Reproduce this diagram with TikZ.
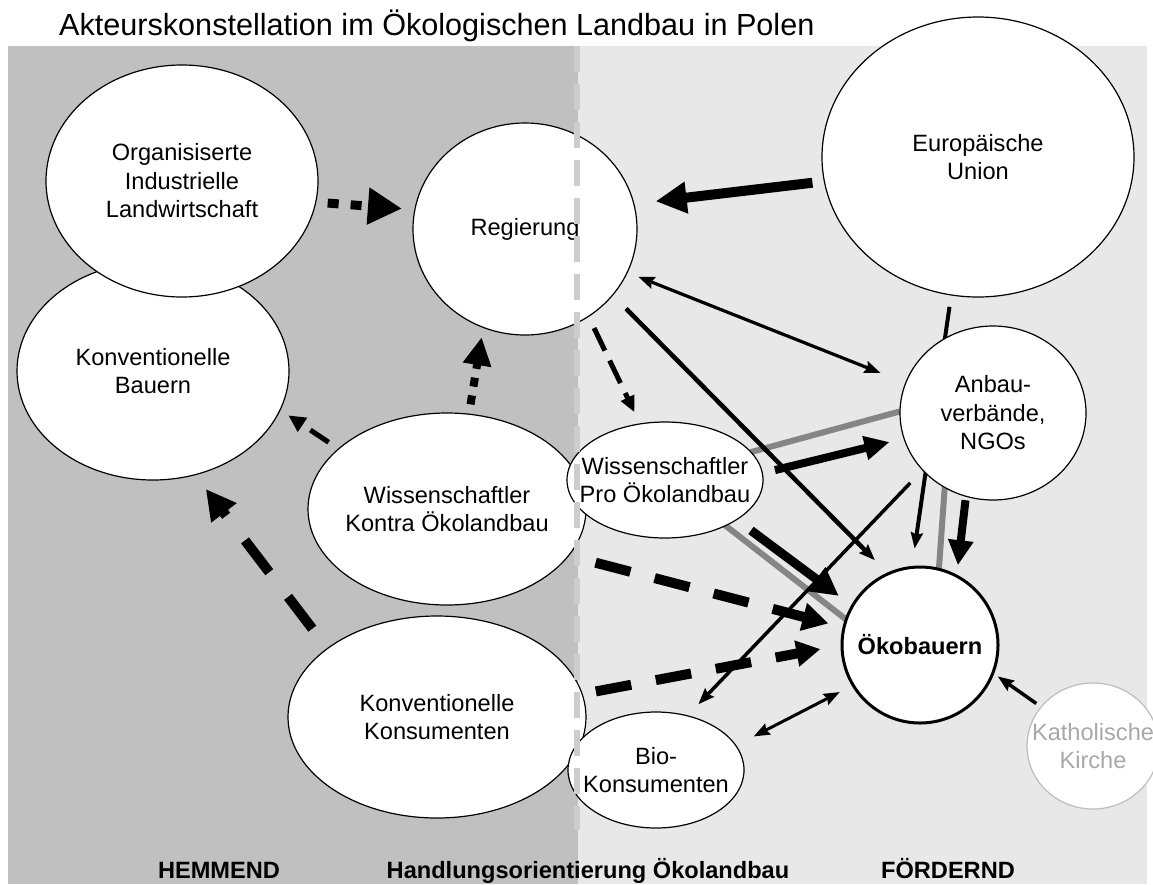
\documentclass[tikz,border=0pt]{standalone}
\usepackage{fontspec}
\setmainfont{Liberation Sans}
\usetikzlibrary{arrows.meta,shapes.geometric}
\pgfdeclarelayer{bg}
\pgfdeclarelayer{behind}
\pgfsetlayers{bg,behind,main}
\definecolor{bgdark}{HTML}{C0C0C0}
\definecolor{bglight}{HTML}{E8E8E8}
\definecolor{vlinecol}{HTML}{CDCDCD}
\definecolor{grayln}{HTML}{858585}
\definecolor{kakline}{HTML}{BDBDBD}
\definecolor{kaktext}{HTML}{A8A8A8}
\begin{document}
\begin{tikzpicture}[x=1pt,y=-1pt,
  actor/.style={ellipse,draw=black,line width=1.2pt,fill=white,inner sep=0pt,outer sep=0pt},
  txt/.style={font=\fontsize{23.6}{28.5}\selectfont,align=center,inner sep=0pt},
  lbl/.style={font=\fontsize{23.6}{28}\selectfont\bfseries,anchor=base,inner sep=0pt},
  thinhead/.style={-{Stealth[length=16pt,width=12pt,inset=2pt]}},
  thinarr/.style={draw=black,line width=3.3pt,line cap=butt,thinhead},
  thickarr/.style={draw=black,line cap=butt},
  grayline/.style={draw=grayln,line width=6pt},
  sqdots/.style={draw=black,line width=9pt,dash pattern=on 11pt off 12pt},
  sqdotsb/.style={draw=black,line width=8pt,dash pattern=on 9pt off 9pt},
  meddash/.style={draw=black,line width=5pt,dash pattern=on 22pt off 11pt},
  bigdash/.style={draw=black,line width=10pt,dash pattern=on 40pt off 31pt},
  bigdashb/.style={draw=black,line width=10pt,dash pattern=on 36pt off 25pt}
]
\useasboundingbox (0,0) rectangle (1153,884);
\begin{pgfonlayer}{bg}
\fill[bgdark] (8,46) rectangle (578,884);
\fill[bglight] (578,46) rectangle (1147,884);
\end{pgfonlayer}

\node[font=\fontsize{30.6}{36}\selectfont,anchor=base west,inner sep=0pt] (title) at (59,35)
  {Akteurskonstellation im Ökologischen Landbau in Polen};

% actors
\node[actor,minimum width=272pt,minimum height=218pt,
  label={[txt]center:{Konventionelle\\Bauern}}] (KB) at (153,371) {};
\node[actor,minimum width=272pt,minimum height=232pt,
  label={[txt]center:{Organisiserte\\Industrielle\\Landwirtschaft}}] (OIL) at (182,181) {};
\node[actor,minimum width=224pt,minimum height=212pt,
  label={[txt]center:{Regierung}}] (R) at (525,229) {};
\node[actor,minimum width=312pt,minimum height=280pt,
  label={[txt]center:{Europäische\\Union}}] (EU) at (978,157) {};
\node[actor,minimum width=186pt,minimum height=174pt,
  label={[txt]center:{Anbau-\\verbände,\\NGOs}}] (AV) at (993,413) {};
\node[actor,minimum width=278pt,minimum height=192pt,
  label={[txt]center:{Wissenschaftler\\Kontra Ökolandbau}}] (WK) at (447,509) {};
\node[actor,minimum width=196pt,minimum height=116pt,
  label={[txt]center:{Wissenschaftler\\Pro Ökolandbau}}] (WP) at (665,480) {};
\node[actor,minimum width=298pt,minimum height=202pt,
  label={[txt]center:{Konventionelle\\Konsumenten}}] (KK) at (437,717) {};
\node[actor,minimum width=176pt,minimum height=116pt,
  label={[txt]center:{Bio-\\Konsumenten}}] (BK) at (656,770) {};
\node[actor,line width=3pt,minimum width=156pt,minimum height=156pt,
  label={[txt,font=\fontsize{23.6}{28.5}\selectfont\bfseries]center:{Ökobauern}}] (OB) at (920,645) {};
\node[actor,draw=kakline,minimum width=132pt,minimum height=126pt,
  label={[txt,text=kaktext]center:{Katholische\\Kirche}}] (KaK) at (1093,746) {};

% lines behind the actors
\begin{pgfonlayer}{behind}
\draw[grayline,shorten <=-4pt,shorten >=-4pt] (WP.18) -- (AV.179);
\draw[grayline,shorten <=-4pt,shorten >=-4pt] (AV.-123) -- (OB.76);
\draw[grayline,shorten <=-4pt,shorten >=-4pt] (WP.-37) -- (OB.161);
\draw[thinarr,line width=4pt,shorten <=12pt,shorten >=19pt] (EU.-101) -- (OB.96);
\end{pgfonlayer}

% dividing line
\coordinate (vtop) at (577,46);
\coordinate (vbot) at (577,830);
\draw[vlinecol,line width=5.5pt,dash pattern=on 26pt off 12pt] (vtop) -- (vbot);

% connectors
\draw[sqdots,-{Triangle[length=34pt,width=35pt]},shorten <=12pt,shorten >=13pt] (OIL.-9) -- (R.170);
\draw[sqdotsb,-{Triangle[length=28pt,width=27pt]},shorten <=10pt,shorten >=10pt] (WK.77) -- (R.-113);
\draw[meddash,-{Triangle[length=17pt,width=16pt]},shorten <=12pt,shorten >=10pt] (WK.151) -- (KB.-17);
\draw[bigdash,-{Triangle[length=30pt,width=30pt]},shorten <=25pt,shorten >=18pt] (KK.148) -- (KB.-68);
\draw[thickarr,line width=10pt,-{Triangle[length=31pt,width=30pt]},shorten <=12pt,shorten >=22pt] (EU.189) -- (R.13);
\draw[thinarr,line width=3.2pt,{Stealth[length=16pt,width=12pt,inset=2pt]}-{Stealth[length=16pt,width=12pt,inset=2pt]},shorten <=12pt,shorten >=27pt] (R.-23) -- (AV.161);
\draw[meddash,dash pattern=on 25pt off 11pt,-{Triangle[length=16pt,width=14pt]},shorten <=13pt,shorten >=13pt] (R.-54) -- (WP.114);
\draw[thinarr,line width=4.5pt,shorten <=19pt,shorten >=19pt] (R.-37) -- (OB.114);
\draw[thickarr,line width=8pt,-{Triangle[length=25pt,width=24pt]},shorten <=4pt,shorten >=11pt] (AV.-108) -- (OB.62);
\draw[thickarr,line width=8pt,-{Triangle[length=25pt,width=23pt]},shorten <=13pt,shorten >=15pt] (WP.4) -- (AV.196);
\draw[thickarr,line width=9pt,-{Triangle[length=28pt,width=28pt]},shorten <=18pt,shorten >=17pt] (WP.-29) -- (OB.150);
\draw[bigdashb,-{Triangle[length=26pt,width=27pt]},shorten <=28pt,shorten >=16pt] (WK.-21) -- (OB.167);
\draw[bigdashb,-{Triangle[length=24pt,width=25pt]},shorten <=14pt,shorten >=22pt] (KK.9) -- (OB.180);
\draw[thinarr,line width=3.5pt,shorten <=18pt,shorten >=16pt] (AV.219) -- (BK.60);
\draw[thinarr,line width=3pt,{Stealth[length=16pt,width=12pt,inset=2pt]}-{Stealth[length=16pt,width=12pt,inset=2pt]},shorten <=20pt,shorten >=15pt] (BK.17) -- (OB.211);
\draw[thinarr,line width=3.5pt,shorten <=6pt,shorten >=6pt] (KaK.143) -- (OB.-21);

% bottom labels
\node[lbl] (hemmend) at (219,878) {HEMMEND};
\node[lbl] (handlung) at (588,878) {Handlungsorientierung Ökolandbau};
\node[lbl] (foerdernd) at (948,878) {FÖRDERND};
\end{tikzpicture}
\end{document}
